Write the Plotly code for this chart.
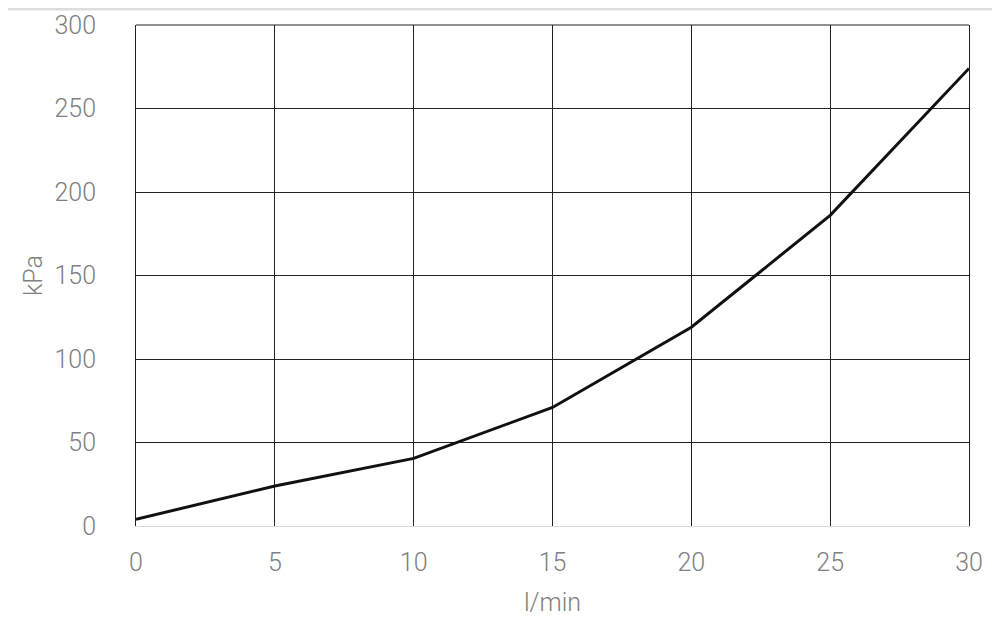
import plotly.graph_objects as go

flow = [0, 5, 10, 15, 20, 25, 30]
pressure = [4, 24, 40.5, 71, 119, 186, 274]
x_ticks = [0, 5, 10, 15, 20, 25, 30]
y_ticks = [0, 50, 100, 150, 200, 250, 300]

fig = go.Figure()
fig.add_trace(go.Scatter(x=flow, y=pressure, mode="lines",
                         line=dict(color="#111111", width=3), showlegend=False))

font = dict(family="Roboto, sans-serif", size=25, color="#808080", weight=300)
fig.update_layout(
    width=1000, height=641,
    margin=dict(l=128, r=39, t=17, b=123, autoexpand=False),
    paper_bgcolor="white", plot_bgcolor="white",
    font=font,
    xaxis=dict(range=[0, 30], tickvals=x_ticks, showgrid=True, gridcolor="#222222", gridwidth=1,
               zeroline=False, showline=True, linecolor="#d9d9d9", linewidth=1,
               ticks="", ticklabelstandoff=14, tickfont=font, automargin=False,
               title=dict(text="l/min", font=font, standoff=17)),
    yaxis=dict(range=[0, 300], tickvals=y_ticks, showgrid=True, gridcolor="#222222", gridwidth=1,
               zeroline=False, showline=True, linecolor="#222222", linewidth=1, mirror=True,
               ticks="", ticklabelstandoff=34, tickfont=font,
               automargin=False,
               title=dict(text="kPa", font=font, standoff=4)),
)
# frame top edge of the plot area
fig.add_shape(type="line", xref="paper", yref="paper", x0=0, x1=1, y0=1, y1=1,
              line=dict(color="#222222", width=1), layer="below")
# thin grey border at the top of the image
fig.add_shape(type="line", xref="paper", yref="paper", x0=-0.2, x1=1.1, y0=1.032, y1=1.032,
              line=dict(color="#dddddd", width=3))
fig.write_html("out.html")
